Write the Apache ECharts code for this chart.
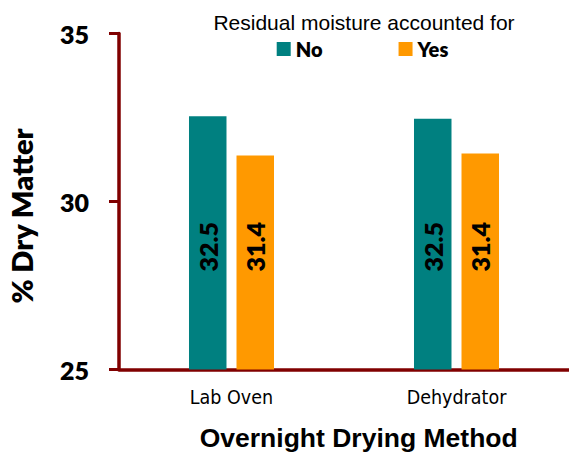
<!DOCTYPE html>
<html>
<head>
<meta charset="utf-8">
<script src="https://cdn.jsdelivr.net/npm/echarts@6/dist/echarts.min.js"></script>
<style>
html,body{margin:0;padding:0;background:#fff;}
#chart{width:569px;height:452px;}
</style>
</head>
<body>
<div id="chart"></div>
<script>
const categories = ['Lab Oven', 'Dehydrator'];
const seriesNames = ['No', 'Yes'];
const noValues = [32.54, 32.46];
const yesValues = [31.37, 31.43];
const yMin = 25, yMax = 35, yStep = 5;
const legendTitle = 'Residual moisture accounted for';
const xTitle = 'Overnight Drying Method';
const yTitle = '% Dry Matter';

const axisColor = '#800000';
const colors = ['#008080', '#FF9900'];
const boldFont = 'Lato, "Open Sans", sans-serif';
const heavy = 800;

const chart = echarts.init(document.getElementById('chart'), null, {renderer: 'svg'});

const labelCfg = {
  show: true,
  position: 'insideBottom',
  distance: 98,
  rotate: 90,
  align: 'left',
  verticalAlign: 'middle',
  color: '#000',
  fontFamily: boldFont,
  fontWeight: heavy,
  fontSize: 25,
  formatter: p => p.value.toFixed(1)
};

chart.setOption({
  animation: false,
  color: colors,
  grid: {left: 119, right: 0, top: 33.5, bottom: 82.5, containLabel: false},
  legend: {
    data: seriesNames,
    left: 276.7, top: 39, padding: 0,
    icon: 'rect', itemWidth: 14, itemHeight: 14, itemGap: 76,
    textStyle: {fontFamily: boldFont, fontWeight: heavy, fontSize: 20, color: '#000'}
  },
  xAxis: {
    type: 'category',
    data: categories,
    axisLine: {lineStyle: {color: axisColor, width: 3.5}},
    axisTick: {show: false},
    axisLabel: {
      margin: 18, color: '#000', fontSize: 19.5,
      fontFamily: '"Liberation Sans Narrow", "DejaVu Sans Condensed", "Liberation Sans", sans-serif'
    },
    splitLine: {show: false}
  },
  yAxis: {
    type: 'value',
    min: yMin, max: yMax, interval: yStep,
    axisLine: {show: true, lineStyle: {color: axisColor, width: 3.5}},
    axisTick: {show: true, length: 10, lineStyle: {color: axisColor, width: 3}},
    axisLabel: {margin: 30, color: '#000', fontSize: 25, fontWeight: heavy, fontFamily: boldFont},
    splitLine: {show: false}
  },
  series: [
    {name: seriesNames[0], type: 'bar', data: noValues, barWidth: 37.5, barGap: '26.7%', label: labelCfg},
    {name: seriesNames[1], type: 'bar', data: yesValues, barWidth: 37.5, barGap: '26.7%', label: labelCfg}
  ],
  graphic: [
    {type: 'text', x: 364, y: 22, style: {text: legendTitle, align: 'center', verticalAlign: 'middle',
      font: '21px "Liberation Sans", Arial, sans-serif', fill: '#000'}},
    {type: 'text', x: 358.7, y: 437.5, style: {text: xTitle, align: 'center', verticalAlign: 'middle',
      font: 'bold 26.5px "Liberation Sans", Arial, sans-serif', fill: '#000'}},
    {type: 'text', x: 21.5, y: 216, rotation: Math.PI / 2, style: {text: yTitle, align: 'center', verticalAlign: 'middle',
      font: '800 29px Lato, "Open Sans", sans-serif', fill: '#000'}}
  ]
});
</script>
</body>
</html>
